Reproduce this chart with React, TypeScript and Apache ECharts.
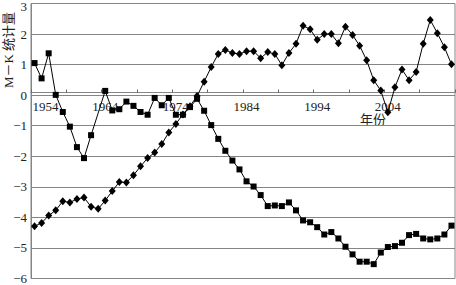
import React, { useEffect, useRef } from 'react';
import * as echarts from 'echarts';

const years: string[] = [];
for (let y = 1954; y <= 2013; y++) years.push(String(y));

const labeledYears = ['1954', '1964', '1974', '1984', '1994', '2004'];

// squares
const ufValues = [
  1.05, 0.55, 1.37, 0.01, -0.55, -1.03, -1.70, -2.06, -1.31, -0.59,
  0.14, -0.50, -0.46, -0.21, -0.35, -0.55, -0.64, -0.09, -0.33, -0.09,
  -0.64, -0.64, -0.39, -0.12, -0.51, -0.98, -1.43, -1.82, -2.14, -2.43,
  -2.82, -2.99, -3.27, -3.63, -3.61, -3.63, -3.51, -3.77, -4.10, -4.16,
  -4.32, -4.56, -4.48, -4.69, -4.96, -5.21, -5.45, -5.45, -5.53, -5.15,
  -4.97, -4.94, -4.83, -4.58, -4.54, -4.69, -4.72, -4.69, -4.56, -4.27,
];

// diamonds
const ubValues = [
  -4.29, -4.18, -3.94, -3.77, -3.47, -3.51, -3.40, -3.35, -3.65, -3.72,
  -3.45, -3.14, -2.84, -2.86, -2.62, -2.33, -2.06, -1.88, -1.60, -1.22,
  -0.94, -0.63, -0.36, -0.03, 0.44, 0.92, 1.35, 1.48, 1.38, 1.35,
  1.44, 1.44, 1.21, 1.41, 1.35, 0.98, 1.38, 1.68, 2.27, 2.16,
  1.81, 2.00, 2.00, 1.70, 2.24, 1.97, 1.62, 1.14, 0.49, 0.15,
  -0.56, 0.26, 0.84, 0.49, 0.76, 1.68, 2.46, 2.03, 1.57, 1.01,
];

const ufHiddenMarkerYears = ['1963'];

const yMin = -6;
const yMax = 3;

const serif = '"Liberation Serif", "Times New Roman", "Noto Sans CJK SC", serif';
const textColor = '#222';
const lineGray = '#858585';

const GRID_TOP = 2;
const GRID_HEIGHT = 279;

export default function App() {
  const ref = useRef<HTMLDivElement>(null);

  useEffect(() => {
    if (!ref.current) return;
    const chart = echarts.init(ref.current, null, { renderer: 'svg' });
    // distance from grid bottom up to the zero line, so the category axis sits on y = 0
    const zeroOffset = -(GRID_HEIGHT * (0 - yMin)) / (yMax - yMin);
    chart.setOption({
      animation: false,
      grid: {
        left: 31,
        right: 1,
        top: GRID_TOP,
        height: GRID_HEIGHT,
        show: true,
        borderColor: lineGray,
        borderWidth: 1,
        containLabel: false,
      },
      xAxis: {
        type: 'category',
        data: years,
        boundaryGap: true,
        position: 'bottom',
        offset: zeroOffset,
        axisLine: { show: true, onZero: false, lineStyle: { color: lineGray, width: 1 } },
        axisTick: {
          show: true,
          inside: true,
          length: 3,
          interval: 4,
          lineStyle: { color: '#666' },
        },
        axisLabel: {
          interval: (_i: number, v: string) => labeledYears.includes(v),
          margin: 7,
          color: textColor,
          fontFamily: serif,
          fontSize: 13,
          formatter: (v: string, i: number) => (i === 0 ? `{first|${v}}` : v),
          rich: {
            first: {
              padding: [0, 0, 0, 22],
              fontFamily: serif,
              fontSize: 13,
              color: textColor,
            },
          },
        },
        splitLine: { show: false },
      },
      yAxis: {
        type: 'value',
        min: yMin,
        max: yMax,
        interval: 1,
        axisLine: { show: true, onZero: false, lineStyle: { color: lineGray, width: 1 } },
        axisTick: { show: false },
        axisLabel: {
          margin: 4,
          color: textColor,
          fontFamily: serif,
          fontSize: 13,
          formatter: (v: number) => {
            if (v < 0) return '\u2212' + Math.abs(v);
            if (v === 3) return '{top|3}';
            return String(v);
          },
          rich: {
            top: {
              padding: [6, 0, 0, 0],
              fontFamily: serif,
              fontSize: 13,
              color: textColor,
            },
          },
        },
        splitLine: { show: true, lineStyle: { color: lineGray, width: 1 } },
      },
      graphic: [
        {
          type: 'text',
          x: 8.5,
          y: 50,
          rotation: Math.PI / 2,
          style: {
            text: 'M－K 统计量',
            fontSize: 13,
            fontFamily: serif,
            fill: textColor,
            align: 'center',
            verticalAlign: 'middle',
          },
        },
        {
          type: 'text',
          left: 360,
          top: 113,
          style: {
            text: '年份',
            fontSize: 13,
            fontFamily: serif,
            fill: textColor,
          },
        },
      ],
      series: [
        {
          name: 'UB',
          type: 'line',
          data: ubValues,
          symbol: 'diamond',
          symbolSize: [7, 8],
          showAllSymbol: true,
          lineStyle: { color: '#000', width: 1 },
          itemStyle: { color: '#000' },
        },
        {
          name: 'UF',
          type: 'line',
          data: ufValues.map((v, i) =>
            ufHiddenMarkerYears.includes(years[i]) ? { value: v, symbol: 'none' } : v
          ),
          symbol: 'rect',
          symbolSize: 6,
          showAllSymbol: true,
          lineStyle: { color: '#000', width: 1 },
          itemStyle: { color: '#000' },
        },
      ],
    });
    return () => chart.dispose();
  }, []);

  return (
    <div
      ref={ref}
      style={{ position: 'absolute', left: 0, top: 0, width: 456, height: 285 }}
    />
  );
}
